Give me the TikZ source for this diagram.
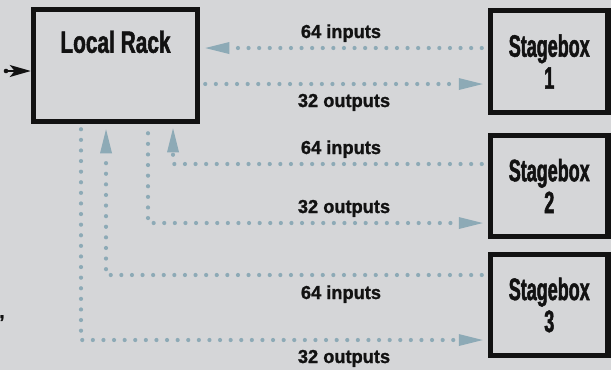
\documentclass[tikz,border=0pt]{standalone}
\usepackage{fontspec}
\setmainfont{Liberation Sans}
\newfontfamily\lrfont[FakeStretch=0.68,FakeBold=1.6]{Liberation Sans}
\newfontfamily\sbfont[FakeStretch=0.58,FakeBold=1.6]{Liberation Sans}
\newfontfamily\lblfont[FakeStretch=0.97,FakeBold=1.2]{Liberation Sans}
\usetikzlibrary{arrows.meta,calc}
\definecolor{bg}{HTML}{D5D6D8}
\definecolor{wirec}{HTML}{8DAAB6}
\definecolor{ink}{HTML}{121212}
\begin{document}
\begin{tikzpicture}[x=1pt,y=-1pt,
  box/.style={draw=ink, line width=5.5pt, inner sep=0pt},
  sbox/.style={box, minimum width=117.5pt, minimum height=101pt, align=center,
    text=ink, font=\sbfont\bfseries\fontsize{31}{32}\selectfont},
  wire/.style={draw=wirec, line width=4.2pt, line cap=round, dash pattern=on 0pt off 10.6pt},
  tip/.style={-{Triangle[length=24pt,width=12pt,line width=0pt]}},
  lbl/.style={font=\lblfont\bfseries\fontsize{18.8}{20}\selectfont, text=ink, inner sep=0pt, anchor=base},
]
\useasboundingbox (0,0) rectangle (611,370);
\fill[bg] (0,0) rectangle (611,370);

% boxes
\node[box, minimum width=164pt, minimum height=112pt] (lr) at (115.5,65.5) {};
\node[font=\lrfont\bfseries\fontsize{30.7}{32}\selectfont, text=ink, anchor=base, inner sep=0pt]
  (lrt) at ($(lr.north)+(0,46)$) {Local Rack};
\node[sbox, minimum height=102pt] (sb1) at (549.25,61.5) {Stagebox\\1};
\node[sbox] (sb2) at (549.25,186) {Stagebox\\2};
\node[sbox] (sb3) at (549.25,305) {Stagebox\\3};

% incoming arrow on the left
\coordinate (src) at (6,71);
\fill[ink] (src) circle[radius=2.3pt];
\draw[ink, line width=1.5pt, -{Stealth[length=21pt,width=12pt,inset=5pt]}] (src) -- (lr.west |- src);

% stagebox 1
\draw[wire, tip] ($(sb1.west |- 0,48)+(-6,0)$) -- ($(lr.east |- 0,48)+(5,0)$);
\draw[wire, tip] ($(lr.east |- 0,84)+(5,0)$) -- ($(sb1.west |- 0,84)+(-5,0)$);
% stagebox 2
\draw[wire, tip] ($(sb2.west |- 0,164)+(-6,0)$) -| ($(lr.south -| 173,0)+(0,4)$);
\draw[wire, tip] ($(lr.south -| 148,0)+(0,9)$) |- ($(sb2.west |- 0,223)+(-5,0)$);
% stagebox 3
\draw[wire, tip] ($(sb3.west |- 0,275)+(-6,0)$) -| ($(lr.south -| 106,0)+(0,5)$);
\draw[wire, tip] ($(lr.south -| 81,0)+(0,5)$) |- ($(sb3.west |- 0,340)+(-5,0)$);

% labels
\node[lbl] (l1) at (341,38) {64 inputs};
\node[lbl] (l2) at (344,107) {32 outputs};
\node[lbl] (l3) at (341,154) {64 inputs};
\node[lbl] (l4) at (344,213) {32 outputs};
\node[lbl] (l5) at (341,299) {64 inputs};
\node[lbl] (l6) at (344,363) {32 outputs};
\node[lbl] (comma) at (2,318) {,};
\end{tikzpicture}
\end{document}
